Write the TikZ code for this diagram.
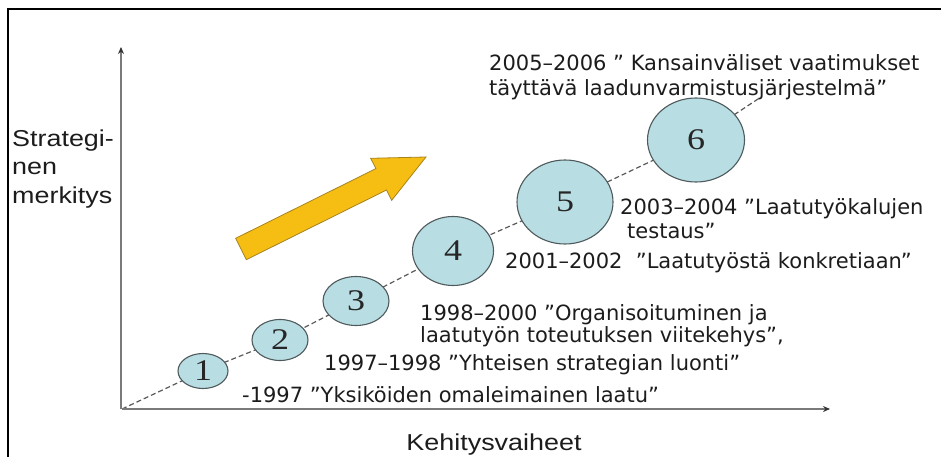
\documentclass[tikz,border=0pt]{standalone}
\usepackage{fontspec}
\usetikzlibrary{arrows.meta,shapes.geometric,backgrounds}
\newfontfamily\labfont{DejaVu Sans}
\newfontfamily\axfont[FakeStretch=1.17]{Liberation Sans}
\newfontfamily\numfont[FakeStretch=1.2]{Liberation Serif}
\definecolor{stagefill}{HTML}{B8DDE3}
\definecolor{stageedge}{HTML}{4F5A5C}
\definecolor{arrowfill}{HTML}{F6BE12}
\definecolor{arrowedge}{HTML}{A8821C}
\definecolor{axisgray}{HTML}{7A7A7A}
\definecolor{labtext}{HTML}{1C1C1C}

\begin{document}
\begin{tikzpicture}[x=1pt,y=-1pt,
  stage/.style={ellipse, draw=stageedge, line width=1.1pt, fill=stagefill,
    inner sep=0pt, text=black!85, font=\numfont\fontsize{30}{30}\selectfont},
  phase/.style={anchor=base west, inner sep=0pt, text=labtext,
    font=\labfont\fontsize{21}{25}\selectfont},
  axislabel/.style={inner sep=0pt, text=labtext,
    font=\axfont\fontsize{23}{28}\selectfont},
  axisline/.style={draw=axisgray, line width=1.4pt,
    -{Stealth[length=7pt,width=6pt,color=black!80]}},
  pathline/.style={draw=black!65, line width=1.2pt, dash pattern=on 5pt off 3pt},
  bigarrow/.style={fill=arrowfill, draw=arrowedge, line width=0.8pt, line join=miter}
]
\useasboundingbox (0,0) rectangle (941,457);

% outer frame (top and left edges)
\draw[line width=2pt] (8,462) -- (8,9) -- (946,9);

% axes
\coordinate (O) at (122,409);
\coordinate (xend) at (830,409);
\coordinate (yend) at (121,47);
\draw[axisline] (O) -- (xend);
\draw[axisline] (121,409) -- (yend);

% development stages
\node[stage, minimum width=50pt, minimum height=35pt] (c1) at (203,371) {1};
\node[stage, minimum width=56pt, minimum height=41pt] (c2) at (280,340) {2};
\node[stage, minimum width=66pt, minimum height=49pt] (c3) at (356,301) {3};
\node[stage, minimum width=81pt, minimum height=69pt] (c4) at (453,251) {4};
\node[stage, minimum width=96pt, minimum height=84pt] (c5) at (565,202) {5};
\node[stage, minimum width=97pt, minimum height=84pt] (c6) at (696,140) {6};
\coordinate (pend) at (761,97);

% dashed progression line behind the stages
\begin{scope}[on background layer]
  \draw[pathline] (O) -- (c1.center) -- (c2.center) -- (c3.center)
    -- (c4.center) -- (c5.center) -- (c6.center) -- (pend);
\end{scope}

% yellow trend arrow
\draw[bigarrow] (235.7,238.3) -- (375.9,168.6) -- (370.7,158.3) -- (426,157)
  -- (391.7,200.3) -- (386.5,190.0) -- (246.3,259.7) -- cycle;

% stage descriptions
\node[phase] (l6a) at (489,70.5) {2005–2006 ” Kansainväliset vaatimukset};
\node[phase] (l6b) at (489,95.5) {täyttävä laadunvarmistusjärjestelmä”};
\node[phase] (l5a) at (620,214) {2003–2004 ”Laatutyökalujen};
\node[phase] (l5b) at (627,238) {testaus”};
\node[phase] (l4) at (505,268.5) {2001–2002\ \ ”Laatutyöstä konkretiaan”};
\node[phase] (l3a) at (420,320.5) {1998–2000 ”Organisoituminen ja};
\node[phase] (l3b) at (420,342.5) {laatutyön toteutuksen viitekehys”,};
\node[phase] (l2) at (324,370) {1997–1998 ”Yhteisen strategian luonti”};
\node[phase] (l1) at (242,402) {-1997 ”Yksiköiden omaleimainen laatu”};

% axis titles
\node[axislabel, anchor=base west, align=left] (ytitle) at (12,203)
  {Strategi-\\nen\\merkitys};
\node[axislabel, anchor=base] (xtitle) at (494,450) {Kehitysvaiheet};
\end{tikzpicture}
\end{document}
